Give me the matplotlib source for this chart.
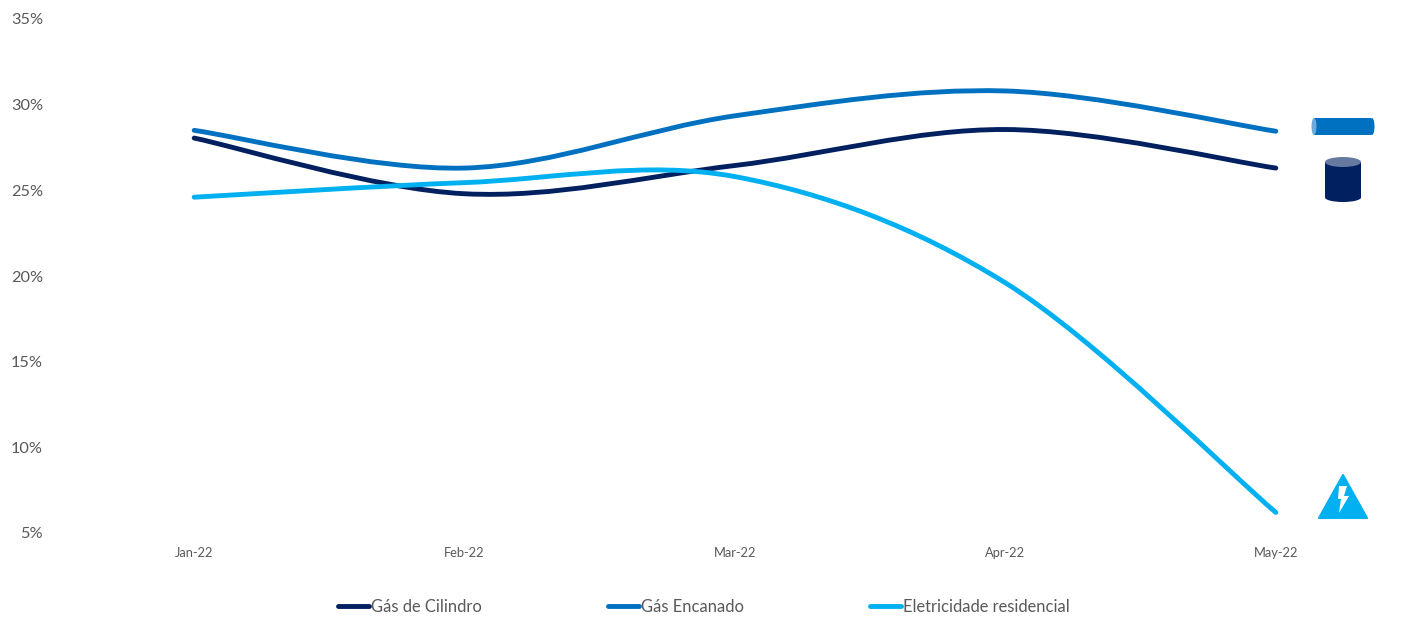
import numpy as np
import matplotlib
matplotlib.use('Agg')
import matplotlib.pyplot as plt
from matplotlib.lines import Line2D
from matplotlib.patches import Ellipse, PathPatch, Polygon, Rectangle
from matplotlib.path import Path
from matplotlib.transforms import Affine2D

meses = ['Jan-22', 'Feb-22', 'Mar-22', 'Apr-22', 'May-22']
gas_cilindro = [28.05, 24.8, 26.45, 28.55, 26.3]
gas_encanado = [28.5, 26.3, 29.35, 30.8, 28.45]
eletricidade = [24.6, 25.45, 25.8, 19.6, 6.2]
nomes = ['Gás de Cilindro', 'Gás Encanado', 'Eletricidade residencial']
cores = ['#002060', '#0070C0', '#00B0F0']
yticks = [5, 10, 15, 20, 25, 30, 35]

W, H = 1426, 621
plt.rcParams['font.family'] = ['Lato', 'DejaVu Sans']
cinza = '#595959'


def curva(x, y):
    # linha suavizada: bezier com tangentes de Catmull-Rom
    x = np.asarray(x, float)
    y = np.asarray(y, float)
    verts = [(x[0], y[0])]
    codes = [Path.MOVETO]
    n = len(x)
    for i in range(n - 1):
        a = max(i - 1, 0)
        b = min(i + 2, n - 1)
        verts.append((x[i] + (x[i + 1] - x[a]) / 6, y[i] + (y[i + 1] - y[a]) / 6))
        verts.append((x[i + 1] - (x[b] - x[i]) / 6, y[i + 1] - (y[b] - y[i]) / 6))
        verts.append((x[i + 1], y[i + 1]))
        codes += [Path.CURVE4] * 3
    return Path(verts, codes)


fig = plt.figure(figsize=(W / 100, H / 100), dpi=100)
ax = fig.add_axes([59 / W, 1 - 533 / H, (1411 - 59) / W, (533 - 19) / H])
ax.set_xlim(-0.5, 4.5)
ax.set_ylim(5, 35)
for s in ax.spines.values():
    s.set_visible(False)

pos = np.arange(len(meses))
for serie, cor in zip([gas_cilindro, gas_encanado, eletricidade], cores):
    ax.add_patch(PathPatch(curva(pos, serie), fill=False, edgecolor=cor, lw=3.5,
                           capstyle='round', joinstyle='round', clip_on=False))

ax.set_xticks(pos)
ax.set_xticklabels(meses, fontsize=9.3, color=cinza)
ax.set_yticks(yticks)
ax.set_yticklabels([f'{v}%' for v in yticks], fontsize=11.8, color=cinza)
ax.tick_params(axis='both', length=0)
ax.tick_params(axis='x', pad=10)
ax.tick_params(axis='y', pad=11.5)

handles = [Line2D([0], [0], color=c, lw=3.5, solid_capstyle='round') for c in cores]
fig.legend(handles, nomes, loc='center', bbox_to_anchor=(704 / W, 1 - 606.5 / H), ncol=3,
           frameon=False, fontsize=11.9, labelcolor=cinza, handlelength=1.9,
           handletextpad=0.12, columnspacing=7.6, borderpad=0)

# icones ao lado das series, em pixels da figura (origem no topo)
px = Affine2D().scale(1, -1).translate(0, H)

# tubo
fig.add_artist(Rectangle((1314, 118), 57, 17, fc='#0070C0', ec='none', transform=px))
fig.add_artist(Ellipse((1314, 126.5), 5, 17, fc='#6FAADC', ec='none', transform=px))
fig.add_artist(Ellipse((1372, 126.5), 5, 17, fc='#0070C0', ec='none', transform=px))

# cilindro
fig.add_artist(Ellipse((1343, 197.5), 36, 9, fc='#002060', ec='none', transform=px))
fig.add_artist(Rectangle((1325, 162), 36, 36, fc='#002060', ec='none', transform=px))
fig.add_artist(Ellipse((1343, 162), 36, 10, fc='#66799F', ec='none', transform=px))

# triangulo com raio
fig.add_artist(Polygon([(1343, 475), (1367, 518), (1319, 518)], closed=True, fc='#00B0F0',
                       ec='#00B0F0', lw=1.5, joinstyle='round', transform=px))
fig.add_artist(Polygon([(1339, 486), (1347, 486), (1344, 496), (1349, 496),
                        (1339, 513), (1341, 499), (1338, 499)], closed=True,
                       fc='white', ec='none', transform=px))

fig.savefig('out.png', dpi=100, facecolor='white')
